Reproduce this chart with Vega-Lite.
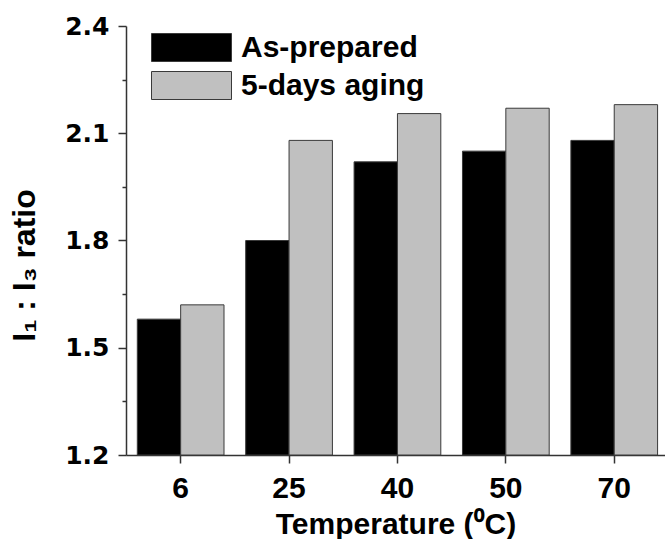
{
  "$schema": "https://vega.github.io/schema/vega-lite/v6.json",
  "width": 539,
  "height": 429,
  "autosize": {"type": "none"},
  "padding": {"left": 126, "top": 26, "right": 0, "bottom": 84},
  "background": "white",
  "config": {"view": {"stroke": null}},
  "data": {
    "values": [
      {"temperature": "6", "series": "As-prepared", "ratio": 1.58},
      {"temperature": "6", "series": "5-days aging", "ratio": 1.62},
      {"temperature": "25", "series": "As-prepared", "ratio": 1.80},
      {"temperature": "25", "series": "5-days aging", "ratio": 2.08},
      {"temperature": "40", "series": "As-prepared", "ratio": 2.02},
      {"temperature": "40", "series": "5-days aging", "ratio": 2.155},
      {"temperature": "50", "series": "As-prepared", "ratio": 2.05},
      {"temperature": "50", "series": "5-days aging", "ratio": 2.17},
      {"temperature": "70", "series": "As-prepared", "ratio": 2.08},
      {"temperature": "70", "series": "5-days aging", "ratio": 2.18}
    ]
  },
  "mark": {"type": "bar", "stroke": "#3a3a3a", "strokeWidth": 1},
  "encoding": {
    "x": {
      "field": "temperature",
      "type": "ordinal",
      "sort": ["6", "25", "40", "50", "70"],
      "scale": {"paddingInner": 0.2, "paddingOuter": 0.0863, "align": 0.604},
      "axis": {
        "title": "Temperature (⁰C)",
        "labelAngle": 0,
        "labelFont": "Liberation Sans",
        "labelFontWeight": "bold",
        "labelFontSize": 30,
        "labelColor": "black",
        "labelBaseline": "alphabetic",
        "labelPadding": 34,
        "tickSize": 8,
        "tickColor": "#333333",
        "tickWidth": 1.5,
        "domainColor": "#333333",
        "domainWidth": 1.5,
        "titleFont": "Liberation Sans",
        "titleFontSize": 30,
        "titleFontWeight": "bold",
        "titleColor": "black",
        "titleBaseline": "alphabetic",
        "titleY": 78
      }
    },
    "xOffset": {"field": "series", "sort": ["As-prepared", "5-days aging"]},
    "y": {
      "field": "ratio",
      "type": "quantitative",
      "scale": {"domain": [1.2, 2.4], "nice": false, "zero": false},
      "axis": {
        "title": "I₁ : I₃ ratio",
        "values": [1.2, 1.35, 1.5, 1.65, 1.8, 1.95, 2.1, 2.25, 2.4],
        "labelExpr": "round(datum.value*100) % 30 === 0 ? format(datum.value, '.1f') : ''",
        "tickSize": {"condition": {"test": "round(datum.value*100) % 30 === 0", "value": 8}, "value": 4},
        "grid": false,
        "labelFont": "DejaVu Sans",
        "labelFontWeight": "bold",
        "labelFontSize": 25,
        "labelColor": "black",
        "labelPadding": 9,
        "tickColor": "#333333",
        "tickWidth": 1.5,
        "domainColor": "#333333",
        "domainWidth": 1.5,
        "titleFont": "Liberation Sans",
        "titleFontSize": 32,
        "titleFontWeight": "bold",
        "titleColor": "black",
        "titleAngle": -90,
        "titleAlign": "center",
        "titleBaseline": "alphabetic",
        "titleX": -91.5,
        "titleY": 239
      }
    },
    "y2": {"datum": 1.2},
    "color": {
      "field": "series",
      "type": "nominal",
      "sort": ["As-prepared", "5-days aging"],
      "scale": {"domain": ["As-prepared", "5-days aging"], "range": ["#000000", "#c0c0c0"]},
      "legend": {
        "orient": "none",
        "legendX": 49,
        "legendY": 5,
        "title": null,
        "padding": 0,
        "symbolType": "M-2.5,-0.875H2.5V0.875H-2.5Z",
        "symbolSize": 1024,
        "symbolStrokeColor": "#3a3a3a",
        "symbolStrokeWidth": 1,
        "symbolOpacity": 1,
        "labelFont": "Liberation Sans",
        "labelFontSize": 30,
        "labelFontWeight": "bold",
        "labelColor": "black",
        "labelOffset": 33,
        "rowPadding": 5,
        "labelLimit": 400
      }
    }
  }
}
